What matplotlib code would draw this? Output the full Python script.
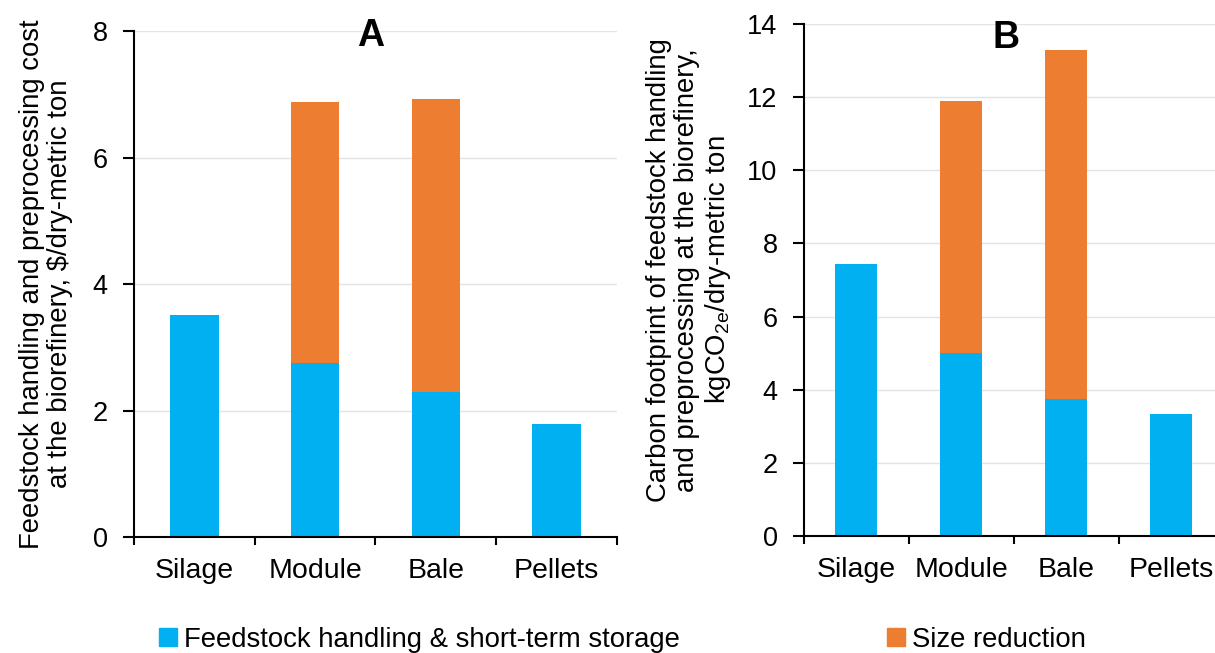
import matplotlib.pyplot as plt
import numpy as np

plt.rcParams['font.family'] = ['Liberation Sans', 'DejaVu Sans']
plt.rcParams['mathtext.fontset'] = 'custom'
plt.rcParams['mathtext.rm'] = 'Liberation Sans'
plt.rcParams['mathtext.it'] = 'Liberation Sans:italic'

# feedstock formats
formats = ['Silage', 'Module', 'Bale', 'Pellets']

# A: handling + preprocessing cost, $/dry-metric ton
cost_handling = [3.51, 2.75, 2.29, 1.79]
cost_size_red = [0.00, 4.13, 4.64, 0.00]

# B: carbon footprint, kgCO2e/dry-metric ton
co2_handling = [7.44, 5.00, 3.75, 3.34]
co2_size_red = [0.00, 6.90, 9.54, 0.00]

blue = '#00B0F0'
orange = '#ED7D31'
series_names = ['Feedstock handling & short-term storage', 'Size reduction']

fig = plt.figure(figsize=(12.15, 6.53), dpi=100)
axA = fig.add_axes([0.1103, 0.1776, 0.3975, 0.7749])
axB = fig.add_axes([0.6617, 0.1792, 0.3457, 0.7840])

x = np.arange(len(formats))
w = 0.4


def style(ax, ymax, step):
    ax.set_xlim(-0.5, len(formats) - 0.5)
    ax.set_ylim(0, ymax)
    ax.set_yticks(np.arange(0, ymax + 0.1, step))
    ax.spines['top'].set_visible(False)
    ax.spines['right'].set_visible(False)
    for s in ['left', 'bottom']:
        ax.spines[s].set_linewidth(1.5)
    ax.yaxis.grid(True, color='#e3e3e3', linewidth=1.0)
    ax.set_axisbelow(True)
    # boundaries between categories carry the tick marks, names sit in between
    ax.set_xticks(np.arange(-0.5, len(formats), 1.0))
    ax.set_xticklabels([])
    ax.set_xticks(x, minor=True)
    ax.set_xticklabels(formats, minor=True, fontsize=20.5)
    ax.tick_params(axis='x', which='major', length=6, width=1.5, direction='out')
    ax.tick_params(axis='x', which='minor', length=0, pad=15)
    ax.tick_params(axis='y', length=8, width=1.5, direction='out', pad=11, labelsize=19.5)


axA.bar(x, cost_handling, w, color=blue)
axA.bar(x, cost_size_red, w, bottom=cost_handling, color=orange)
style(axA, 8, 2)
axA.set_ylabel('Feedstock handling and preprocessing cost\nat the biorefinery, \\$/dry-metric ton',
               fontsize=19.8, linespacing=1.1)
axA.yaxis.set_label_coords(-0.127, 0.5)
axA.text(0.49, 1.025, 'A', transform=axA.transAxes, fontsize=27, fontweight='bold',
         ha='center', va='top')

axB.bar(x, co2_handling, w, color=blue)
axB.bar(x, co2_size_red, w, bottom=co2_handling, color=orange)
style(axB, 14, 2)
axB.set_ylabel('Carbon footprint of feedstock handling\nand preprocessing at the biorefinery,\n'
               'kgCO$_{\\mathrm{2e}}$/dry-metric ton', fontsize=19.8, linespacing=1.1)
axB.yaxis.set_label_coords(-0.17, 0.52)
axB.text(0.48, 1.008, 'B', transform=axB.transAxes, fontsize=27, fontweight='bold',
         ha='center', va='top')

# legend entries placed separately along the bottom edge
for name, col, xpos in [(series_names[0], blue, 0.131), (series_names[1], orange, 0.730)]:
    h = plt.Rectangle((0, 0), 1, 1, color=col)
    fig.legend([h], [name], loc='center left', bbox_to_anchor=(xpos, 0.02),
               frameon=False, fontsize=19.8, handlelength=0.65, handleheight=0.65,
               handletextpad=0.25, borderpad=0, borderaxespad=0)

fig.savefig('out.png', dpi=100)
